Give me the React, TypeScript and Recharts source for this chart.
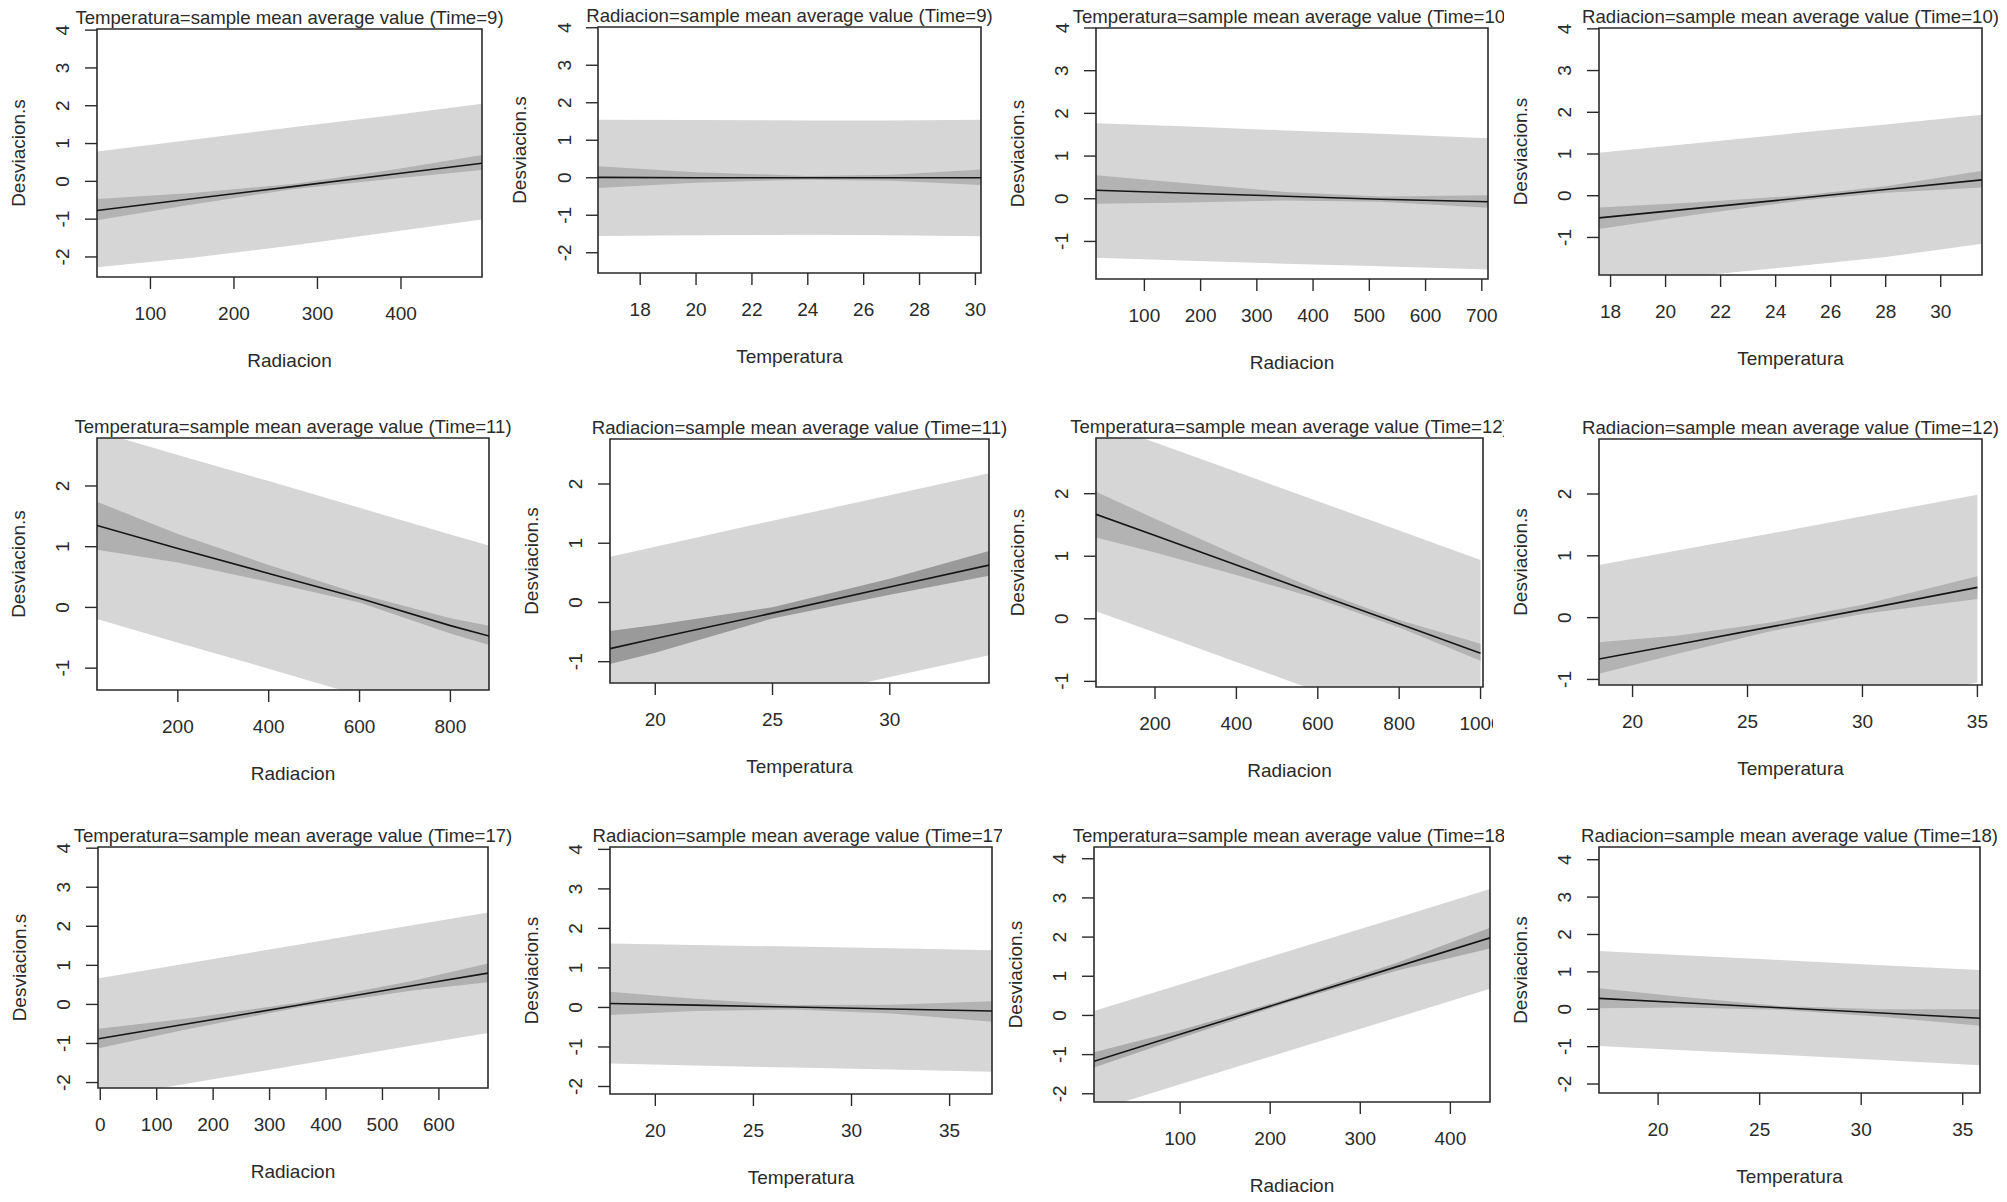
import { ComposedChart, Area, Line, XAxis, YAxis, ReferenceArea } from 'recharts';

// 12 effect panels: 3 rows x 4 columns
const TITLES = [
  'Temperatura=sample mean average value (Time=9)',
  'Radiacion=sample mean average value (Time=9)',
  'Temperatura=sample mean average value (Time=10)',
  'Radiacion=sample mean average value (Time=10)',
  'Temperatura=sample mean average value (Time=11)',
  'Radiacion=sample mean average value (Time=11)',
  'Temperatura=sample mean average value (Time=12)',
  'Radiacion=sample mean average value (Time=12)',
  'Temperatura=sample mean average value (Time=17)',
  'Radiacion=sample mean average value (Time=17)',
  'Temperatura=sample mean average value (Time=18)',
  'Radiacion=sample mean average value (Time=18)',
];
const X_LABELS = ['Radiacion', 'Temperatura', 'Radiacion', 'Temperatura', 'Radiacion', 'Temperatura',
  'Radiacion', 'Temperatura', 'Radiacion', 'Temperatura', 'Radiacion', 'Temperatura'];
const Y_LABEL = 'Desviacion.s';

const X_TICKS = [
  [100, 200, 300, 400],
  [18, 20, 22, 24, 26, 28, 30],
  [100, 200, 300, 400, 500, 600, 700],
  [18, 20, 22, 24, 26, 28, 30],
  [200, 400, 600, 800],
  [20, 25, 30],
  [200, 400, 600, 800, 1000],
  [20, 25, 30, 35],
  [0, 100, 200, 300, 400, 500, 600],
  [20, 25, 30, 35],
  [100, 200, 300, 400],
  [20, 25, 30, 35],
];
const Y_TICKS = [
  [-2, -1, 0, 1, 2, 3, 4],
  [-2, -1, 0, 1, 2, 3, 4],
  [-1, 0, 1, 2, 3, 4],
  [-1, 0, 1, 2, 3, 4],
  [-1, 0, 1, 2],
  [-1, 0, 1, 2],
  [-1, 0, 1, 2],
  [-1, 0, 1, 2],
  [-2, -1, 0, 1, 2, 3, 4],
  [-2, -1, 0, 1, 2, 3, 4],
  [-2, -1, 0, 1, 2, 3, 4],
  [-2, -1, 0, 1, 2, 3, 4],
];
const X_DOMAINS = [
  [36, 497], [16.49, 30.2], [14, 711], [17.58, 31.5],
  [22, 885], [18.07, 34.23], [55, 1006], [18.54, 35.2],
  [-4, 687], [17.69, 37.16], [4.4, 444], [17.09, 35.85],
];
const Y_DOMAINS = [
  [-2.53, 4.03], [-2.54, 4.02], [-1.88, 4.0], [-1.9, 4.02],
  [-1.36, 2.79], [-1.36, 2.76], [-1.09, 2.89], [-1.09, 2.89],
  [-2.14, 4.03], [-2.19, 4.06], [-2.21, 4.3], [-2.24, 4.34],
];

// sampled x positions per panel
const XS = [
  [36, 150, 270, 390, 497],
  [16.49, 20, 24, 27, 30.2],
  [14, 180, 350, 520, 711],
  [17.58, 21, 25, 28, 31.5],
  [22, 200, 400, 600, 800, 885],
  [18.07, 20, 25, 30, 34.23],
  [55, 200, 400, 600, 800, 1000],
  [18.54, 22, 26, 30, 35],
  [-3, 150, 350, 550, 687],
  [17.69, 22, 27, 32, 37.16],
  [4.4, 100, 220, 340, 444],
  [17.09, 21, 26, 31, 35.85],
];
const FIT = [
  [-0.77, -0.46, -0.14, 0.19, 0.48],
  [0.01, 0.0, 0.0, 0.0, 0.0],
  [0.2, 0.13, 0.06, -0.01, -0.07],
  [-0.53, -0.31, -0.05, 0.15, 0.38],
  [1.35, 0.97, 0.56, 0.15, -0.3, -0.47],
  [-0.78, -0.61, -0.18, 0.26, 0.63],
  [1.67, 1.33, 0.86, 0.39, -0.08, -0.55],
  [-0.67, -0.43, -0.15, 0.13, 0.49],
  [-0.88, -0.51, -0.02, 0.47, 0.8],
  [0.1, 0.06, 0.01, -0.04, -0.09],
  [-1.17, -0.48, 0.38, 1.24, 1.98],
  [0.29, 0.18, 0.04, -0.1, -0.24],
];
const CONF_HI = [
  [-0.47, -0.31, -0.07, 0.31, 0.7],
  [0.31, 0.15, 0.05, 0.08, 0.22],
  [0.55, 0.36, 0.16, 0.05, 0.08],
  [-0.28, -0.16, 0.01, 0.23, 0.6],
  [1.74, 1.21, 0.7, 0.22, -0.18, -0.3],
  [-0.48, -0.38, -0.08, 0.4, 0.87],
  [2.03, 1.6, 1.02, 0.46, -0.02, -0.4],
  [-0.4, -0.29, -0.08, 0.21, 0.67],
  [-0.62, -0.37, 0.04, 0.59, 1.05],
  [0.4, 0.22, 0.06, 0.07, 0.16],
  [-0.94, -0.38, 0.43, 1.34, 2.24],
  [0.56, 0.34, 0.09, 0.0, 0.0],
];
const CONF_LO = [
  [-1.03, -0.61, -0.21, 0.07, 0.3],
  [-0.27, -0.13, -0.05, -0.08, -0.19],
  [-0.12, -0.09, -0.04, -0.07, -0.21],
  [-0.8, -0.46, -0.11, 0.07, 0.2],
  [0.95, 0.74, 0.42, 0.08, -0.43, -0.62],
  [-1.04, -0.85, -0.27, 0.13, 0.45],
  [1.3, 1.06, 0.7, 0.32, -0.14, -0.67],
  [-0.91, -0.58, -0.22, 0.06, 0.3],
  [-1.12, -0.65, -0.08, 0.35, 0.57],
  [-0.19, -0.09, -0.05, -0.15, -0.36],
  [-1.33, -0.58, 0.33, 1.14, 1.71],
  [0.03, 0.05, -0.01, -0.2, -0.44],
];
const PRED_HI = [
  [0.79, 1.1, 1.43, 1.75, 2.05],
  [1.55, 1.54, 1.53, 1.53, 1.55],
  [1.77, 1.69, 1.6, 1.52, 1.42],
  [1.03, 1.25, 1.52, 1.71, 1.94],
  [2.9, 2.51, 2.08, 1.64, 1.2, 1.02],
  [0.77, 0.94, 1.38, 1.81, 2.18],
  [3.16, 2.82, 2.35, 1.88, 1.41, 0.94],
  [0.85, 1.09, 1.36, 1.64, 1.99],
  [0.67, 1.04, 1.53, 2.02, 2.35],
  [1.62, 1.58, 1.54, 1.5, 1.45],
  [0.11, 0.79, 1.64, 2.49, 3.23],
  [1.56, 1.45, 1.32, 1.18, 1.05],
];
const PRED_LO = [
  [-2.27, -2.02, -1.7, -1.33, -1.01],
  [-1.55, -1.53, -1.52, -1.53, -1.56],
  [-1.38, -1.45, -1.52, -1.58, -1.66],
  [-2.19, -1.93, -1.67, -1.47, -1.15],
  [-0.19, -0.58, -1.01, -1.45, -1.89, -2.07],
  [-2.3, -2.13, -1.7, -1.26, -0.89],
  [0.12, -0.22, -0.69, -1.16, -1.63, -2.1],
  [-2.19, -1.95, -1.68, -1.4, -1.05],
  [-2.41, -2.04, -1.55, -1.06, -0.73],
  [-1.42, -1.47, -1.52, -1.57, -1.63],
  [-2.44, -1.76, -0.91, -0.06, 0.68],
  [-0.98, -1.09, -1.22, -1.36, -1.5],
];

// plot box of each panel on the page: left, top, right, bottom
const BOXES = [
  [97, 29, 482, 277], [598, 27, 981, 273], [1096, 28, 1488, 279], [1599, 28, 1982, 275],
  [97, 438, 489, 690], [610, 439, 989, 683], [1096, 438, 1483, 687], [1599, 439, 1982, 685],
  [98, 847, 488, 1088], [610, 847, 992, 1094], [1094, 847, 1490, 1102], [1599, 847, 1980, 1093],
];
// each panel was a separate image, so long titles get cut at its right edge
const CLIP_RIGHT = [530, 1010, 1504, 2007, 530, 1010, 1504, 2007, 530, 1002, 1504, 2007];
const CONF_SHADE = ['#b3b3b3', '#b3b3b3', '#b3b3b3', '#b3b3b3', '#b0b0b0', '#9a9a9a',
  '#b3b3b3', '#b3b3b3', '#b0b0b0', '#b3b3b3', '#ababab', '#b3b3b3'];

const FONT = '"Liberation Sans", Arial, sans-serif';
const INK = '#2a2a2a';
const PRED_SHADE = '#d6d6d6';

const XTick = ({ x, y, payload }: any) => (
  <text x={x} y={y + 24.5} textAnchor="middle" dominantBaseline="central"
    fontFamily={FONT} fontSize={19} fill={INK}>
    {payload.value}
  </text>
);

const YTick = ({ x, y, payload }: any) => (
  <text x={x} y={y} transform={`rotate(-90 ${x} ${y})`} textAnchor="middle" dominantBaseline="central"
    fontFamily={FONT} fontSize={19} fill={INK}>
    {payload.value}
  </text>
);

function Panel({ i }: { i: number }) {
  const [L, T, R, B] = BOXES[i];
  const data = XS[i].map((x, k) => ({
    x,
    fit: FIT[i][k],
    conf: [CONF_LO[i][k], CONF_HI[i][k]],
    pred: [PRED_LO[i][k], PRED_HI[i][k]],
  }));
  const [x0, x1] = X_DOMAINS[i];
  const [y0, y1] = Y_DOMAINS[i];
  const cx = (L + R) / 2;
  const cy = (T + B) / 2;
  const ly = L - 79;

  return (
    <div style={{ position: 'absolute', left: 0, top: 0, width: CLIP_RIGHT[i], height: 1202, overflow: 'hidden' }}>
      <div style={{ position: 'absolute', left: L - 100, top: T - 10 }}>
        <ComposedChart width={R - L + 110} height={B - T + 70} data={data}
          margin={{ top: 10, right: 10, bottom: 0, left: 0 }}>
          <XAxis dataKey="x" type="number" domain={[x0, x1]} ticks={X_TICKS[i]} allowDataOverflow
            interval={0} axisLine={false} tickSize={12} tickMargin={0}
            tickLine={{ stroke: INK, strokeWidth: 1.4 }} tick={XTick} height={60} />
          <YAxis type="number" domain={[y0, y1]} ticks={Y_TICKS[i]} allowDataOverflow
            interval={0} axisLine={false} tickSize={12} tickMargin={22}
            tickLine={{ stroke: INK, strokeWidth: 1.4 }} tick={YTick} width={100} />
          <Area dataKey="pred" type="linear" stroke="none" fill={PRED_SHADE} fillOpacity={1}
            isAnimationActive={false} dot={false} activeDot={false} />
          <Area dataKey="conf" type="linear" stroke="none" fill={CONF_SHADE[i]} fillOpacity={1}
            isAnimationActive={false} dot={false} activeDot={false} />
          <Line dataKey="fit" type="linear" stroke="#151515" strokeWidth={1.6} dot={false}
            activeDot={false} isAnimationActive={false} />
          <ReferenceArea x1={x0} x2={x1} y1={y0} y2={y1} fill="none" stroke={INK} strokeWidth={1.6} />
        </ComposedChart>
      </div>
      <svg width={CLIP_RIGHT[i]} height={1202} style={{ position: 'absolute', left: 0, top: 0 }}>
        <text x={cx} y={T - 5} textAnchor="middle" fontFamily={FONT} fontSize={18.6} fill={INK}>
          {TITLES[i]}
        </text>
        <text x={cx} y={B + 83} textAnchor="middle" dominantBaseline="central"
          fontFamily={FONT} fontSize={19} fill={INK}>
          {X_LABELS[i]}
        </text>
        <text x={ly} y={cy} transform={`rotate(-90 ${ly} ${cy})`} textAnchor="middle"
          dominantBaseline="central" fontFamily={FONT} fontSize={19} fill={INK}>
          {Y_LABEL}
        </text>
      </svg>
    </div>
  );
}

export default function App() {
  return (
    <div style={{ position: 'absolute', left: 0, top: 0, width: 2007, height: 1202, background: '#fff', overflow: 'hidden' }}>
      {TITLES.map((_, i) => (
        <Panel key={i} i={i} />
      ))}
    </div>
  );
}
